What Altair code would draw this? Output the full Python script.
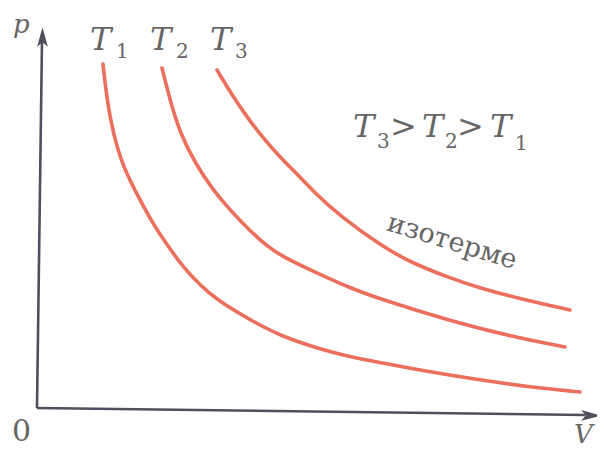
import altair as alt
import pandas as pd

# Isotherm curves (V, p)
V_T1 = [6.5, 6.9, 7.5, 8.5, 10.2, 11.4, 12.7, 14.5, 16.2, 17.9, 21.2, 24.5, 27.9, 31.2, 34.5, 39.2, 44.2, 49.2, 54.2]
p_T1 = [34.4, 30.8, 27.5, 24.1, 20.8, 18.6, 16.6, 14.1, 12.3, 10.8, 8.8, 7.1, 6.0, 5.1, 4.5, 3.6, 2.8, 2.1, 1.6]
V_T2 = [12.4, 13.2, 14.2, 15.7, 17.5, 19.2, 21.2, 22.9, 24.5, 27.9, 31.2, 34.5, 40.9, 47.5, 52.7]
p_T2 = [34.0, 30.8, 27.5, 24.5, 21.8, 19.8, 17.7, 16.2, 15.1, 13.5, 12.0, 10.8, 8.8, 7.1, 6.1]
V_T3 = [17.9, 19.4, 20.9, 22.5, 24.2, 25.9, 27.7, 30.2, 34.5, 37.2, 40.9, 44.2, 47.5, 53.2]
p_T3 = [33.8, 31.3, 29.1, 27.0, 25.1, 23.4, 21.5, 19.2, 16.1, 14.6, 13.1, 12.0, 11.1, 9.8]

# Axis lines (start, end) and arrow heads
axis_V = [-0.1, 0.4, -0.1, 54.7]
axis_p = [0.0, 36.8, 0.0, -0.7]
arrow_V = [0.45, 55.3]
arrow_p = [37.1, -0.75]
arrow_angle = [0, 91]

# Labels
big_T_text = ["T", "T", "T", "T", "T", "T"]
big_T_V = [5.2, 11.2, 17.2, 31.5, 38.4, 45.2]
big_T_p = [35.8, 35.8, 35.8, 27.1, 27.1, 27.1]
sub_text = ["1", "2", "3", "3", "2", "1"]
sub_V = [7.8, 13.8, 19.7, 33.9, 40.7, 47.7]
sub_p = [35.0, 35.0, 35.0, 26.0, 26.0, 25.8]
gt_text = [">", ">"]
gt_V = [35.2, 41.9]
gt_p = [27.1, 27.1]
p_lbl_V = [-2.5]
p_lbl_p = [37.5]
v_lbl_V = [53.6]
v_lbl_p = [-3.95]
zero_text = ["0"]
zero_V = [-1.65]
zero_p = [-2.4]
iso_text = ["изотерме"]
iso_V = [41.4]
iso_p = [16.6]

rows = []
for name, Vs, ps in [("T1", V_T1, p_T1), ("T2", V_T2, p_T2), ("T3", V_T3, p_T3)]:
    for i, (v, p) in enumerate(zip(Vs, ps)):
        rows.append({"series": name, "i": i, "V": v, "p": p})
curves = pd.DataFrame(rows)

xs = alt.Scale(domain=[-3.0, 55.9], nice=False, zero=False)
ys = alt.Scale(domain=[-4.1, 40.0], nice=False, zero=False)
X = lambda f="V": alt.X(f"{f}:Q", scale=xs, axis=None)
Y = lambda f="p": alt.Y(f"{f}:Q", scale=ys, axis=None)

FONT = "DejaVu Serif, Liberation Serif, Noto Serif, serif"
TXT = "#666666"
AX = "#4f4f5e"

curve_layer = alt.Chart(curves).mark_line(
    color="#ec6f5e", strokeWidth=3.6, interpolate="basis", strokeCap="round"
).encode(x=X(), y=Y(), detail="series:N", order="i:Q")

axes_df = pd.DataFrame({"V": [axis_V[0], axis_V[2]], "p": [axis_p[0], axis_p[2]],
                        "V2": [axis_V[1], axis_V[3]], "p2": [axis_p[1], axis_p[3]]})
axes_layer = alt.Chart(axes_df).mark_rule(color=AX, strokeWidth=2.6).encode(
    x=X(), y=Y(), x2="V2:Q", y2="p2:Q")

arrow_df = pd.DataFrame({"V": arrow_V, "p": arrow_p, "a": arrow_angle})
arrow_layer = alt.Chart(arrow_df).mark_point(
    shape="M0,-1L0.55,1L0,0.55L-0.55,1Z", filled=True, color=AX, opacity=1, size=380
).encode(x=X(), y=Y(), angle=alt.Angle("a:Q", scale=None))

def text_layer(texts, Vs, ps, size, italic, align="left", baseline="alphabetic", angle=0):
    df = pd.DataFrame({"t": texts, "V": Vs, "p": ps})
    kw = dict(font=FONT, fontSize=size, color=TXT, align=align, baseline=baseline)
    if italic:
        kw["fontStyle"] = "italic"
    if angle:
        kw["angle"] = angle
    return alt.Chart(df).mark_text(**kw).encode(x=X(), y=Y(), text="t:N")

layers = [
    curve_layer,
    axes_layer,
    arrow_layer,
    text_layer(big_T_text, big_T_V, big_T_p, 32, True),
    text_layer(sub_text, sub_V, sub_p, 20, False),
    text_layer(gt_text, gt_V, gt_p, 32, False),
    text_layer(["p"], p_lbl_V, p_lbl_p, 26, True),
    text_layer(["V"], v_lbl_V, v_lbl_p, 26, True, baseline="bottom"),
    text_layer(zero_text, zero_V, zero_p, 30, False, align="center", baseline="middle"),
    text_layer(iso_text, iso_V, iso_p, 27, False, align="center", baseline="middle", angle=17),
]

chart = alt.layer(*layers).properties(
    width=589, height=441, padding=0,
    autosize=alt.AutoSizeParams(type="none"),
    background="white",
).configure_view(stroke=None)

chart.save("out.html", embed_options={"renderer": "svg", "actions": False})
